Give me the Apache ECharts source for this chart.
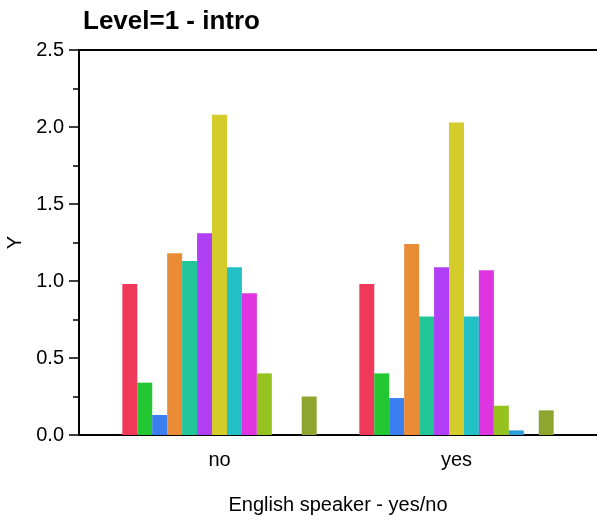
<!DOCTYPE html>
<html><head><meta charset="utf-8">
<script src="https://cdn.jsdelivr.net/npm/echarts@6/dist/echarts.min.js"></script>
<style>html,body{margin:0;padding:0;background:#fff}#c{width:597px;height:520px}</style>
</head><body><div id="c"></div>
<script>
const categories = ['no', 'yes'];
const seriesNames = ['S1','S2','S3','S4','S5','S6','S7','S8','S9','S10','S11','S12','S13'];
const seriesColors = ['#F0395A','#22C732','#3A7FF0','#E98C35','#22C598','#B03EF5','#D4CC2A','#22C0C4','#DE35E0','#95C21F','#2D9FD6','#888888','#8EA530'];
const seriesValues = [
  [0.98, 0.98],
  [0.34, 0.40],
  [0.13, 0.24],
  [1.18, 1.24],
  [1.13, 0.77],
  [1.31, 1.09],
  [2.08, 2.03],
  [1.09, 0.77],
  [0.92, 1.07],
  [0.40, 0.19],
  [null, 0.03],
  [null, null],
  [0.25, 0.16]
];
const yTicks = [0, 0.5, 1.0, 1.5, 2.0, 2.5];

const chart = echarts.init(document.getElementById('c'));
const font = 'Liberation Sans, Arial, sans-serif';
chart.setOption({
  animation: false,
  title: {text: 'Level=1 - intro', left: 83, top: 9, padding: 0, textStyle: {fontFamily: font, fontWeight: 'bold', fontSize: 26, color: '#000'}},
  grid: [
    {left: 101, right: 22, top: 50, bottom: 85, outerBoundsMode: 'none', containLabel: false},
    {left: 79, right: 0, top: 50, bottom: 85, outerBoundsMode: 'none', containLabel: false}
  ],
  xAxis: [
    {type: 'category', gridIndex: 0, data: categories, axisLine: {show: false}, axisTick: {show: false},
     axisLabel: {fontFamily: font, fontSize: 20, color: '#000', margin: 15}},
    {type: 'value', gridIndex: 1, min: 0, max: 1, axisLine: {show: true, lineStyle: {color: '#000', width: 2}},
     axisTick: {show: false}, axisLabel: {show: false}, splitLine: {show: false},
     name: 'English speaker - yes/no', nameLocation: 'middle', nameGap: 60,
     nameTextStyle: {fontFamily: font, fontSize: 20, color: '#000'}},
    {type: 'value', gridIndex: 1, position: 'top', min: 0, max: 1, axisLine: {show: true, onZero: false, lineStyle: {color: '#000', width: 2}},
     axisTick: {show: false}, axisLabel: {show: false}, splitLine: {show: false}}
  ],
  yAxis: [
    {type: 'value', gridIndex: 0, min: 0, max: 2.5, interval: 0.5, show: false, splitLine: {show: false}},
    {type: 'value', gridIndex: 1, min: 0, max: 2.5, interval: 0.5,
     axisLine: {show: true, lineStyle: {color: '#000', width: 2}},
     axisTick: {show: true, length: 10, lineStyle: {color: '#000', width: 1.5}},
     minorTick: {show: true, splitNumber: 2, length: 6, lineStyle: {color: '#000', width: 1.5}},
     splitLine: {show: false},
     axisLabel: {fontFamily: font, fontSize: 20, color: '#000', margin: 15, formatter: v => v.toFixed(1)},
     name: 'Y', nameLocation: 'middle', nameGap: 53, nameRotate: 90,
     nameTextStyle: {fontFamily: font, fontSize: 20, color: '#000'}}
  ],
  series: seriesNames.map((n, i) => ({
    name: n, type: 'bar', xAxisIndex: 0, yAxisIndex: 0,
    data: seriesValues[i], barGap: '0%', barCategoryGap: '18%',
    itemStyle: {color: seriesColors[i]}
  }))
});
</script></body></html>
